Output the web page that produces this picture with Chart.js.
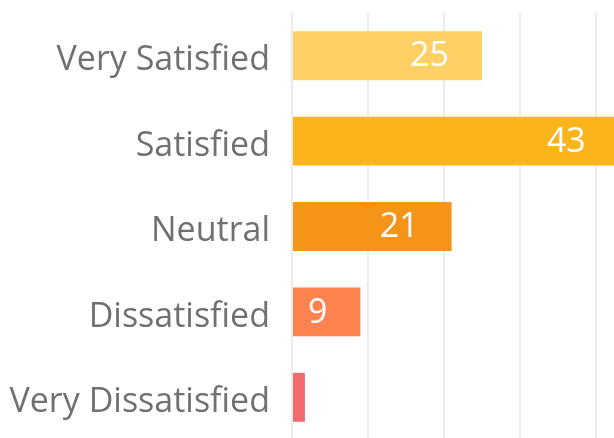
<!DOCTYPE html>
<html>
<head>
<meta charset="utf-8">
<script src="https://cdn.jsdelivr.net/npm/chart.js@4"></script>
<style>
  html, body { margin: 0; padding: 0; background: #fff; overflow: hidden; }
  #wrap { width: 614px; height: 438px; overflow: hidden; position: relative; }
  canvas { position: absolute; left: 0; top: 0; }
</style>
</head>
<body>
<div id="wrap"><canvas id="chart" width="680" height="440"></canvas></div>
<script>
// satisfaction survey counts
const categories = ["Very Satisfied", "Satisfied", "Neutral", "Dissatisfied", "Very Dissatisfied"];
const values = [25, 43, 21, 9, 1.7];
const xTicks = [0, 10, 20, 30, 40, 50];

const barColors = ["#FFD066", "#FBB51A", "#F4951A", "#FF8251", "#F16B6F"];
const fontFamily = "'Open Sans', 'Noto Sans', sans-serif";

// value labels inside the bar end, like datalabels anchor:end align:start
const barLabels = {
  id: "barLabels",
  afterDatasetsDraw(chart) {
    const ctx = chart.ctx;
    const meta = chart.getDatasetMeta(0);
    ctx.save();
    ctx.font = "34px " + fontFamily;
    ctx.fillStyle = "#ffffff";
    ctx.textAlign = "right";
    ctx.textBaseline = "middle";
    meta.data.forEach((bar, i) => {
      const v = values[i];
      if (v < 5) return;
      ctx.fillText(String(v), bar.x - 33, bar.y + 1);
    });
    ctx.restore();
  }
};

new Chart(document.getElementById("chart"), {
  type: "bar",
  data: {
    labels: categories,
    datasets: [{
      data: values,
      backgroundColor: barColors,
      borderWidth: 0,
      barPercentage: 0.573,
      categoryPercentage: 1
    }]
  },
  options: {
    indexAxis: "y",
    responsive: false,
    animation: false,
    devicePixelRatio: 1,
    layout: { padding: { top: 13, right: 8, bottom: 0, left: 0 } },
    plugins: {
      legend: { display: false },
      tooltip: { enabled: false }
    },
    scales: {
      x: {
        min: xTicks[0],
        max: xTicks[xTicks.length - 1],
        afterBuildTicks(axis) { axis.ticks = xTicks.map(v => ({ value: v })); },
        afterFit(axis) { axis.height = 0; axis.paddingLeft = 0; axis.paddingRight = 0; },
        ticks: { display: false },
        border: { display: false },
        grid: { color: "#ececec", lineWidth: 2, drawTicks: false }
      },
      y: {
        afterFit(axis) { axis.width = 292; axis.paddingTop = 0; axis.paddingBottom = 0; },
        border: { display: false },
        grid: { display: false, drawTicks: false },
        ticks: {
          padding: 22,
          labelOffset: 5,
          color: "#707070",
          font: { family: fontFamily, size: 34 }
        }
      }
    }
  },
  plugins: [barLabels]
});
</script>
</body>
</html>
